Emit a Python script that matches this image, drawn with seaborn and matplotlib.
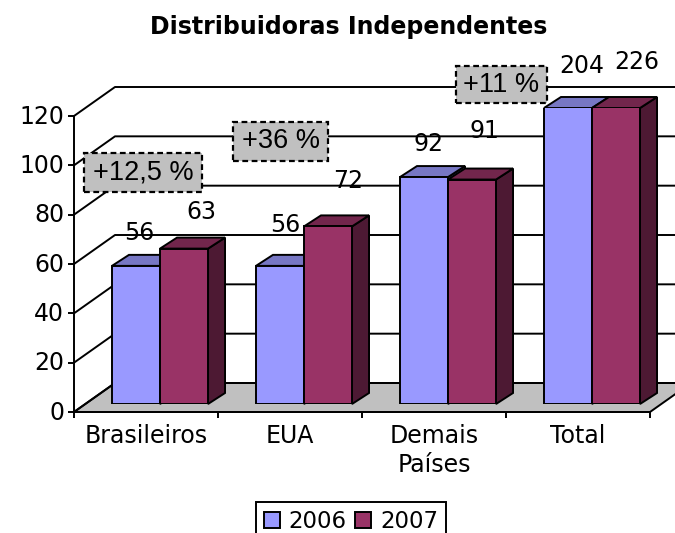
import matplotlib
matplotlib.use("Agg")
import matplotlib.pyplot as plt
import pandas as pd
import seaborn as sns
from matplotlib.patches import Polygon, Rectangle
from matplotlib.transforms import Affine2D

categories = ["Brasileiros", "EUA", "Demais\nPaíses", "Total"]
years = ["2006", "2007"]
values_2006 = [56, 56, 92, 204]
values_2007 = [63, 72, 91, 226]
y_ticks = [0, 20, 40, 60, 80, 100, 120]
callouts = ["+12,5 %", "+36 %", "+11 %"]

W, H = 675, 533
BLUE, WINE = "#9999FF", "#993366"
TOP_COLORS = {BLUE: "#7777C4", WINE: "#72264C"}
SIDE_COLORS = {BLUE: "#4B4B80", WINE: "#4D1933"}

# pixel offsets of the value labels from the top centre of each bar
label_offsets = [(3, 33), (17, 37), (5, 41), (20, 45), (5, 33), (12, 49), (14, 42), (21, 46)]
# pixel boxes of the callouts: left, top, right, bottom
callout_boxes = [(84, 153, 202, 192), (233, 122, 328, 161), (456, 66, 547, 103)]

sns.set_style("white")
plt.rcParams["font.family"] = ["DejaVu Sans"]
plt.rcParams["text.color"] = "black"
plt.rcParams["xtick.labelcolor"] = "black"
plt.rcParams["ytick.labelcolor"] = "black"


def add_axes_px(fig, left, top, right, bottom):
    return fig.add_axes([left / W, 1 - bottom / H, (right - left) / W, (bottom - top) / H])


df = pd.DataFrame({
    "categoria": categories * 2,
    "ano": [years[0]] * 4 + [years[1]] * 4,
    "valor": values_2006 + values_2007,
})

fig = plt.figure(figsize=(W / 100, H / 100), dpi=100)

# front plane of the fake 3D box: axis, ticks, walls, floor
ax = add_axes_px(fig, 74, 116, 650, 412)
ax.set_xlim(-0.5, 3.5)
ax.set_ylim(0, 120)
ax.patch.set_visible(False)
sns.despine(ax=ax)
for side in ["left", "bottom"]:
    ax.spines[side].set_color("black")
    ax.spines[side].set_linewidth(1.4)

depth_x = 41 / 144
depth_y = 29 * 120 / 296
ax.add_patch(Polygon(
    [(-0.5, 0), (3.5, 0), (3.5 + depth_x, depth_y), (-0.5 + depth_x, depth_y)],
    closed=True, facecolor="#C0C0C0", edgecolor="black", linewidth=1.4, clip_on=False, zorder=1,
))
for tick in y_ticks:
    ax.plot([-0.5, -0.5 + depth_x, 3.5 + depth_x], [tick, tick + depth_y, tick + depth_y],
            color="black", linewidth=1.4, clip_on=False, zorder=1)

ax.set_yticks(y_ticks)
ax.set_xticks(range(len(categories)))
ax.set_xticklabels(categories, linespacing=1.25)
ax.set_xticks([-0.5, 0.5, 1.5, 2.5, 3.5], minor=True)
ax.tick_params(axis="y", left=True, length=4, width=1.4, labelsize=17, pad=3, color="black")
ax.tick_params(axis="x", which="major", bottom=False, labelsize=17, pad=5)
ax.tick_params(axis="x", which="minor", bottom=True, length=4, width=1.4, color="black")
for label in ax.get_yticklabels():
    label.set_transform(label.get_transform() + Affine2D().translate(0, 2))

# bars sit a little behind the front plane
bar_ax = add_axes_px(fig, 88, 108, 664, 404)
sns.barplot(data=df, x="categoria", y="valor", hue="ano", order=categories, hue_order=years,
            palette=[BLUE, WINE], width=0.667, saturation=1, ax=bar_ax,
            edgecolor="black", linewidth=1.4, legend=True)
bar_ax.set_xlim(-0.5, 3.5)
bar_ax.set_ylim(0, 120)
handles, labels = bar_ax.get_legend_handles_labels()
bar_ax.get_legend().remove()
bar_ax.axis("off")

bar_dx = 17 / 144
bar_dy = 11 * 120 / 296
bars = sorted([p for p in bar_ax.patches if p.get_height() > 0], key=lambda p: p.get_x())
for order, bar in enumerate(bars):
    x0, x1 = bar.get_x(), bar.get_x() + bar.get_width()
    top = min(bar.get_height(), 120)
    color = matplotlib.colors.to_hex(bar.get_facecolor()).upper()
    bar.set_zorder(2 + order * 0.1 + 0.05)
    bar_ax.add_patch(Polygon(
        [(x1, 0), (x1 + bar_dx, bar_dy), (x1 + bar_dx, top + bar_dy), (x1, top)],
        closed=True, facecolor=SIDE_COLORS[color], edgecolor="black", linewidth=1.4,
        clip_on=False, zorder=2 + order * 0.1,
    ))
    bar_ax.add_patch(Polygon(
        [(x0, top), (x1, top), (x1 + bar_dx, top + bar_dy), (x0 + bar_dx, top + bar_dy)],
        closed=True, facecolor=TOP_COLORS[color], edgecolor="black", linewidth=1.4,
        clip_on=False, zorder=2 + order * 0.1,
    ))
    bar_ax.annotate(str(int(bar.get_height())), xy=((x0 + x1) / 2, top), xytext=label_offsets[order],
                    textcoords="offset pixels", ha="center", va="center", fontsize=17,
                    color="black", annotation_clip=False, zorder=10)

for text, (left, top, right, bottom) in zip(callouts, callout_boxes):
    fig.add_artist(Rectangle((left / W, 1 - bottom / H), (right - left) / W, (bottom - top) / H,
                             transform=fig.transFigure, facecolor="#C0C0C0", edgecolor="black",
                             linewidth=1.6, linestyle=(0, (2.6, 1.6)), zorder=6))
    fig.text((left + right) / 2 / W, 1 - (top + bottom) / 2 / H, text, ha="center", va="center",
             fontsize=19.5, family="Liberation Sans", color="black", zorder=7)

fig.text(349 / W, 1 - 27 / H, "Distribuidoras Independentes", ha="center", va="center",
         fontsize=17, fontweight="bold", color="black")

leg = fig.legend(handles, labels, ncol=2, loc="upper center", bbox_to_anchor=(351 / W, 1 - 502 / H),
                 frameon=True, fancybox=False, edgecolor="black", framealpha=1, fontsize=16.5,
                 handlelength=0.7, handleheight=0.7, handletextpad=0.4, columnspacing=0.35,
                 borderpad=0.35, borderaxespad=0)
leg.get_frame().set_linewidth(1.4)

plt.savefig("out.png", dpi=100)
plt.close()
